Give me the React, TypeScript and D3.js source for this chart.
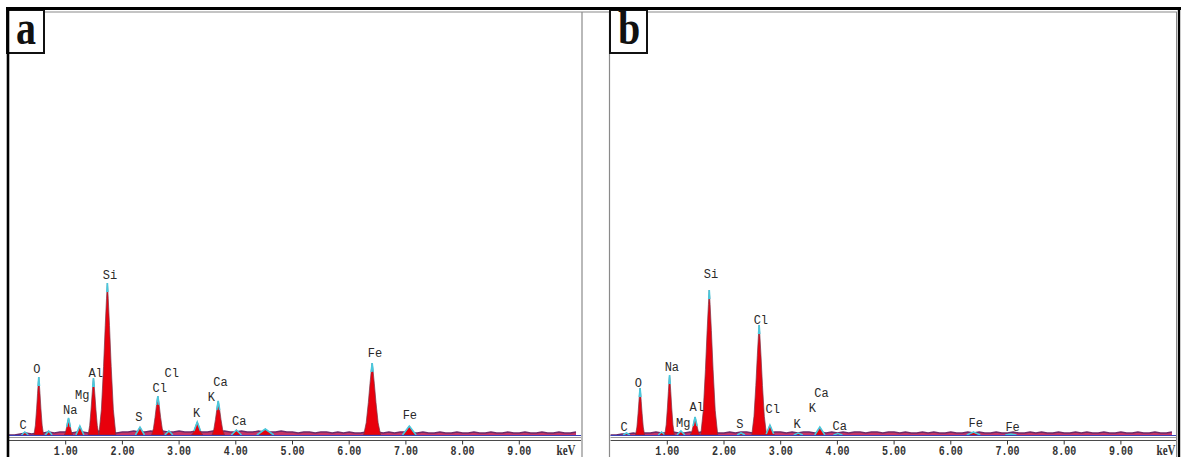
import React from 'react';
import * as d3 from 'd3';

const W = 1181;
const H = 457;

const tickValues = [1, 2, 3, 4, 5, 6, 7, 8, 9];
const unitLabel = 'keV';
const panelLetters = ['a', 'b'];

// Panel a: peaks (energy keV, height counts, base half-width keV)
const peakEnergyA = [0.28, 0.525, 0.7, 1.05, 1.25, 1.49, 1.735, 2.31, 2.625, 2.82, 3.32, 3.69, 4.01, 4.52, 6.405, 7.06];
const peakHeightA = [3, 58, 4, 17, 9, 57, 152, 8, 39, 4, 13, 34, 5, 6, 72, 9];
const peakWidthA = [0.06, 0.085, 0.06, 0.075, 0.07, 0.095, 0.15, 0.08, 0.11, 0.07, 0.1, 0.11, 0.09, 0.15, 0.15, 0.12];

const labelTextA = ['C', 'O', 'Na', 'Mg', 'Al', 'Si', 'S', 'Cl', 'Cl', 'K', 'K', 'Ca', 'Ca', 'Fe', 'Fe'];
const labelEnergyA = [0.25, 0.49, 1.08, 1.29, 1.53, 1.78, 2.29, 2.66, 2.87, 3.31, 3.57, 3.73, 4.06, 6.455, 7.07];
const labelCountA = [10, 66, 25, 40, 62, 160, 18, 47, 62, 22, 38, 53, 14, 82, 20];

const backgroundA = [
  0, 0, 1, 2, 1, 2, 2, 3, 2, 3,
  3, 2, 3, 3, 2, 3, 4, 3, 3, 2,
  3, 3, 4, 3, 3, 4, 3, 4, 3, 3,
  4, 3, 3, 4, 3, 3, 4, 3, 4, 3,
  3, 4, 3, 3, 4, 3, 3, 3, 4, 3,
  3, 2, 3, 3, 2, 3, 3, 2, 3, 2,
  3, 2, 2, 3, 3, 3, 2, 3, 2, 3,
  3, 2, 2, 3, 2, 2, 3, 2, 2, 3,
  2, 2, 3, 2, 2, 3, 2, 2, 3, 2,
  2, 3, 2, 2, 3, 2, 2, 3, 2, 2,
  3, 2,
];

// Panel b
const peakEnergyB = [0.28, 0.52, 0.9, 1.04, 1.24, 1.49, 1.74, 2.3, 2.62, 2.81, 3.31, 3.69, 4.01, 6.4, 7.06];
const peakHeightB = [2, 47, 3, 60, 4, 18, 145, 2, 110, 10, 2, 8, 1.5, 3, 1];
const peakWidthB = [0.06, 0.08, 0.06, 0.085, 0.07, 0.085, 0.15, 0.07, 0.13, 0.08, 0.08, 0.09, 0.08, 0.12, 0.1];

const labelTextB = ['C', 'O', 'Na', 'Mg', 'Al', 'Si', 'S', 'Cl', 'Cl', 'K', 'K', 'Ca', 'Ca', 'Fe', 'Fe'];
const labelEnergyB = [0.24, 0.49, 1.08, 1.28, 1.52, 1.77, 2.28, 2.65, 2.86, 3.29, 3.56, 3.72, 4.04, 6.44, 7.09];
const labelCountB = [8, 52, 68, 12, 28, 161, 11, 115, 26, 11, 27, 42, 9, 12, 8];

const backgroundB = [
  0, 0, 1, 1, 2, 1, 2, 2, 3, 2,
  2, 3, 2, 2, 3, 2, 3, 2, 3, 2,
  2, 3, 2, 3, 3, 2, 3, 3, 2, 3,
  3, 2, 3, 2, 3, 3, 2, 3, 2, 3,
  2, 3, 2, 3, 3, 2, 3, 3, 2, 3,
  3, 2, 3, 2, 2, 3, 2, 3, 2, 2,
  3, 2, 2, 3, 2, 3, 2, 2, 3, 2,
  2, 3, 2, 2, 3, 2, 3, 2, 2, 3,
  2, 2, 3, 2, 3, 2, 2, 3, 2, 2,
  3, 2, 2, 3, 2, 2, 3, 2, 2, 3,
  2, 2,
];

// peak profile template (offset in half-widths, relative height)
const profileOffset = [0, 0.1, 0.25, 0.45, 0.7, 1];
const profileLevel = [1, 0.9, 0.72, 0.45, 0.17, 0];

const BG_STEP = 0.1;

type PanelProps = {
  x0: number;
  x1: number;
  letter: string;
  boxX: number;
  peakE: number[];
  peakH: number[];
  peakW: number[];
  labT: string[];
  labE: number[];
  labC: number[];
  bg: number[];
  unitX: number;
};

const PX_PER_KEV = 56.7;
const BASE_Y = 435;

function Panel(p: PanelProps) {
  const maxE = (p.x1 - p.x0) / PX_PER_KEV;
  const x = d3.scaleLinear().domain([0, maxE]).range([p.x0, p.x1]);
  const y = d3.scaleLinear().domain([0, 420]).range([BASE_Y, BASE_Y - 420]);
  const levelToOffset = d3.scaleLinear().domain(profileLevel).range(profileOffset);

  const area = d3
    .area<[number, number]>()
    .x((d) => x(d[0]))
    .y0(y(0))
    .y1((d) => y(d[1]));
  const line = d3
    .line<[number, number]>()
    .x((d) => x(d[0]))
    .y((d) => y(d[1]));

  const bgClipped: [number, number][] = p.bg
    .map((v, i) => [i * BG_STEP, v] as [number, number])
    .filter((d) => d[0] <= maxE);

  const peaks = p.peakE.map((e, i) => {
    const h = p.peakH[i];
    const w = p.peakW[i];
    const n = profileOffset.length;
    const left: [number, number][] = [];
    for (let k = n - 1; k >= 0; k--) left.push([e - profileOffset[k] * w, h * profileLevel[k]]);
    const right: [number, number][] = [];
    for (let k = 1; k < n; k++) right.push([e + profileOffset[k] * w, h * profileLevel[k]]);
    const pts = [...left, ...right];
    const dropCounts = Math.min(9, h);
    const lvl = Math.max(0, 1 - dropCounts / h);
    const off = levelToOffset(lvl);
    const tip: [number, number][] = [
      [e - off * w, h * lvl],
      [e, h],
      [e + off * w, h * lvl],
    ];
    return { pts, tip, key: i };
  });

  const fmt = d3.format('.2f');
  const bx = p.boxX;

  return (
    <g>
      <path d={area(bgClipped) || ''} fill="#c0104a" opacity={0.85} />
      <path d={line(bgClipped) || ''} fill="none" stroke="#6d2a6a" strokeWidth={1.3} />
      {peaks.map((pk) => (
        <g key={pk.key}>
          <path d={area(pk.pts) || ''} fill="#e8000c" stroke="#7a3348" strokeWidth={0.7} />
          <path d={line(pk.tip) || ''} fill="none" stroke="#49c8dc" strokeWidth={1.6} />
        </g>
      ))}
      <line x1={p.x0} x2={p.x1} y1={BASE_Y + 0.5} y2={BASE_Y + 0.5} stroke="#3a40b8" strokeWidth={1.2} />
      <line x1={p.x0} x2={p.x1} y1={437.5} y2={437.5} stroke="#9a9a9a" strokeWidth={1} />
      <line x1={p.x0} x2={p.x1} y1={440.5} y2={440.5} stroke="#4a4a4a" strokeWidth={1} />
      {tickValues.map((t) => (
        <g key={t}>
          <line x1={x(t)} x2={x(t)} y1={440.5} y2={444.5} stroke="#333" strokeWidth={1} />
          <text
            transform={`translate(${x(t)},454.5) scale(1,1.3)`}
            textAnchor="middle"
            fontFamily="'Liberation Mono', 'DejaVu Sans Mono', monospace"
            fontWeight="bold"
            fontSize={10}
            fill="#333"
          >
            {fmt(t)}
          </text>
        </g>
      ))}
      <text
        transform={`translate(${p.unitX},454.5) scale(1,1.3)`}
        textAnchor="middle"
        fontFamily="'Liberation Serif', serif"
        fontWeight="bold"
        fontSize={11}
        fill="#333"
      >
        {unitLabel}
      </text>
      {p.labT.map((t, i) => (
        <text
          key={i}
          x={x(p.labE[i])}
          y={y(p.labC[i])}
          dy="0.35em"
          textAnchor="middle"
          fontFamily="'Liberation Mono', 'DejaVu Sans Mono', monospace"
          fontSize={12}
          fill="#2a2a2a"
        >
          {t}
        </text>
      ))}
      <rect x={bx} y={10} width={37} height={43} fill="#fff" stroke="#111" strokeWidth={2} />
      <text
        transform={`translate(${bx + 19},44) scale(1,1.2)`}
        textAnchor="middle"
        fontFamily="'Liberation Serif', 'Times New Roman', serif"
        fontWeight="bold"
        fontSize={40}
        fill="#111"
      >
        {p.letter}
      </text>
    </g>
  );
}

export default function App() {
  return (
    <svg
      width={W}
      height={H}
      viewBox={`0 0 ${W} ${H}`}
      style={{ position: 'absolute', left: 0, top: 0, display: 'block', background: '#fff' }}
    >
      <rect x={0} y={0} width={W} height={H} fill="#fff" />
      <line x1={9} x2={1177} y1={12} y2={12} stroke="#8a8a8a" strokeWidth={1.2} />
      <line x1={582} x2={582} y1={12} y2={H} stroke="#8a8a8a" strokeWidth={1.2} />
      <line x1={609.5} x2={609.5} y1={12} y2={H} stroke="#8a8a8a" strokeWidth={1.2} />
      <line x1={1176.5} x2={1176.5} y1={12} y2={H} stroke="#8a8a8a" strokeWidth={1} />

      <Panel
        x0={9}
        x1={581}
        letter={panelLetters[0]}
        boxX={7}
        peakE={peakEnergyA}
        peakH={peakHeightA}
        peakW={peakWidthA}
        labT={labelTextA}
        labE={labelEnergyA}
        labC={labelCountA}
        bg={backgroundA}
        unitX={566}
      />
      <Panel
        x0={610.6}
        x1={1176}
        letter={panelLetters[1]}
        boxX={610}
        peakE={peakEnergyB}
        peakH={peakHeightB}
        peakW={peakWidthB}
        labT={labelTextB}
        labE={labelEnergyB}
        labC={labelCountB}
        bg={backgroundB}
        unitX={1166}
      />

      <line x1={6} x2={1181} y1={8.5} y2={8.5} stroke="#000" strokeWidth={3} />
      <line x1={8} x2={8} y1={7} y2={H} stroke="#000" strokeWidth={2.6} />
      <line x1={1179} x2={1179} y1={7} y2={H} stroke="#000" strokeWidth={2.4} />
    </svg>
  );
}
